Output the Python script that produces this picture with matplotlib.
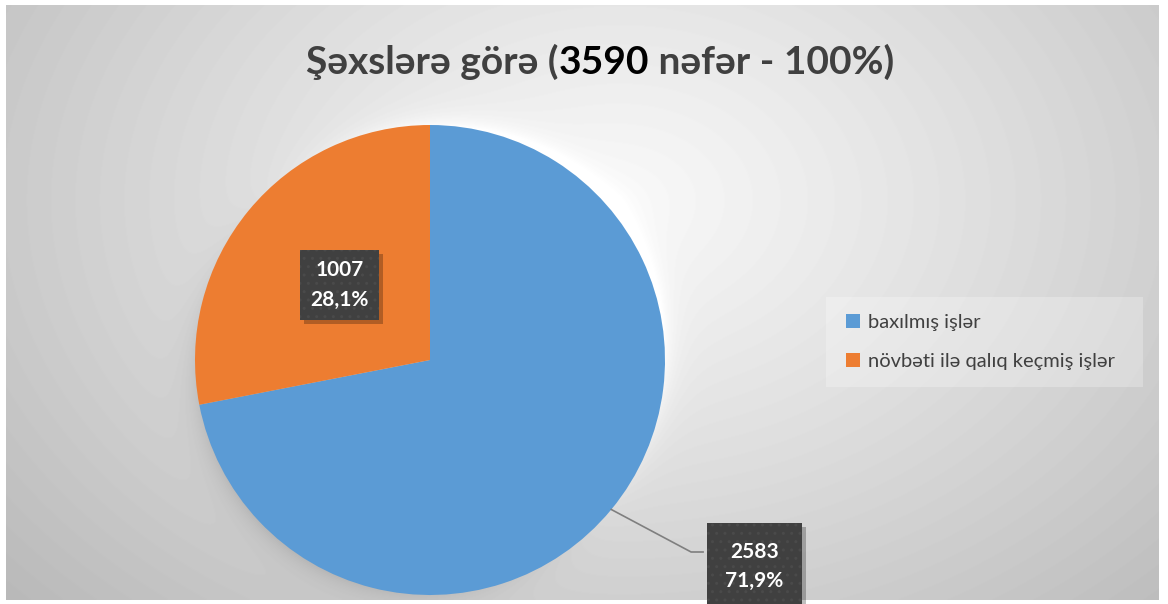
import numpy as np
import matplotlib.pyplot as plt
from matplotlib.patches import Patch, Rectangle
from matplotlib import transforms

# ---- данные -----------------------------------------------------------------
categories = ["baxılmış işlər", "növbəti ilə qalıq keçmiş işlər"]
counts = [2583, 1007]
percents = ["71,9%", "28,1%"]
colors = ["#5b9bd5", "#ed7d31"]
total = 3590
# -----------------------------------------------------------------------------

W, H, DPI = 1168, 604, 100
FONT = ["Lato", "Open Sans", "DejaVu Sans"]
plt.rcParams["font.family"] = FONT

fig = plt.figure(figsize=(W / DPI, H / DPI), dpi=DPI)
fig.patch.set_facecolor("white")

# геометрия круга в пикселях (центр, радиус)
cx, cy, R = 430, 360, 235

# --- фон: серый градиент + мягкая тень/блик вокруг круга ---
x0p, x1p, y0p, y1p = 6, 1159, 5, 600
bg = fig.add_axes([x0p / W, 1 - y1p / H, (x1p - x0p) / W, (y1p - y0p) / H])
yy, xx = np.mgrid[y0p:y1p, x0p:x1p].astype(float)
d = np.sqrt(((xx - 620) / 580) ** 2 + ((yy - 200) / 420) ** 2)
shade = 0.975 - 0.17 * d ** 1.1
r = np.hypot(xx - cx, yy - cy)
ang = np.arctan2(-(yy - cy), xx - cx)
s = np.clip(r - R, 0, None)
shade += 0.09 * np.exp(-s / 12) * np.cos(ang - np.pi / 4)
bg.imshow(np.clip(shade, 0, 1), cmap="gray", vmin=0, vmax=1, aspect="auto")
bg.axis("off")

# --- заголовок в три цвета ---
title_parts = [("Şəxslərə görə (", "#404040"), (str(total), "#000000"),
               (" nəfər - 100%)", "#404040")]
renderer = fig.canvas.get_renderer()
title_y = 1 - 62 / H
parts = []
for txt, c in title_parts:
    t = fig.text(0, title_y, txt, color=c, fontsize=28, fontweight="bold",
                 ha="left", va="center")
    parts.append(t)
widths = [t.get_window_extent(renderer).width for t in parts]
xpos = 600 - sum(widths) / 2
for t, w in zip(parts, widths):
    t.set_x(xpos / W)
    xpos += w

# --- круговая диаграмма ---
ax = fig.add_axes([(cx - R) / W, (H - cy - R) / H, 2 * R / W, 2 * R / H])
wedges, _ = ax.pie(counts, colors=colors, startangle=90, counterclock=False,
                   wedgeprops=dict(linewidth=0))
ax.set_xlim(-1, 1)
ax.set_ylim(-1, 1)

boxes = []


def label_box(x, y, text, pad):
    t = ax.text(x, y, text, color="white", fontsize=15, fontweight="bold",
                ha="center", va="center", linespacing=1.6, zorder=5,
                bbox=dict(boxstyle=f"square,pad={pad}", fc="#404040",
                          ec="#4a4a4a", lw=0, hatch=".."))
    boxes.append(t)


for i, w in enumerate(wedges):
    mid = np.radians((w.theta1 + w.theta2) / 2)
    text = f"{counts[i]}\n{percents[i]}"
    if i == 1:
        label_box(0.5 * np.cos(mid), 0.5 * np.sin(mid), text, 0.5)
    else:
        # выносная подпись с линией
        ex, ey = np.cos(mid), np.sin(mid)
        ax.plot([ex, 1.111, 1.162], [ey, -0.817, -0.817], color="#7f7f7f",
                lw=1.2, clip_on=False, zorder=4)
        label_box(1.381, -0.879, text, 0.9)

# тени под подписями
fig.canvas.draw()
for t in boxes:
    bb = t.get_bbox_patch().get_window_extent(renderer)
    ax.add_patch(Rectangle((bb.x0 + 4, bb.y0 - 4), bb.width, bb.height,
                           transform=transforms.IdentityTransform(),
                           fc=(0, 0, 0, 0.25), lw=0, zorder=4.5, clip_on=False))

# --- легенда ---
fig.patches.append(Rectangle((826 / W, 1 - 387 / H), (1143 - 826) / W, 90 / H,
                             transform=fig.transFigure, fc="white", alpha=0.25,
                             lw=0))
handles = [Patch(fc=c, ec="none") for c in colors]
fig.legend(handles, categories, loc="center left",
           bbox_to_anchor=(828 / W, 1 - 342 / H), frameon=False, fontsize=14.5,
           labelspacing=1.05, handlelength=0.7, handleheight=0.7,
           handletextpad=0.4, labelcolor="#404040")

fig.savefig("out.png", dpi=DPI)
